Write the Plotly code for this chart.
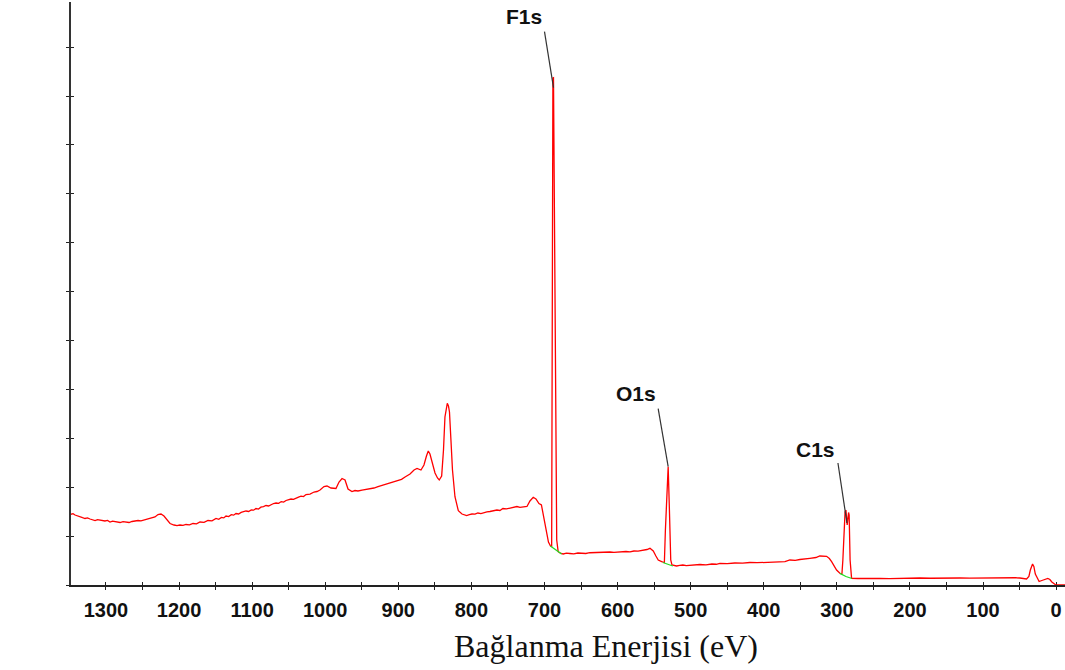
import plotly.graph_objects as go

# XPS survey spectrum: binding energy (eV) and intensity (counts)
binding_energy = [
    1347.8, 1345.0, 1342.3, 1339.0, 1335.5, 1332.0, 1328.6, 1325.2, 1321.8, 1318.3,
    1314.9, 1311.5, 1308.1, 1304.7, 1301.3, 1297.8, 1294.4, 1291.0, 1287.6, 1284.1,
    1280.7, 1276.6, 1272.5, 1268.4, 1264.3, 1260.2, 1256.1, 1252.0, 1247.9, 1243.8,
    1239.7, 1236.3, 1232.9, 1228.8, 1224.7, 1220.6, 1216.5, 1212.3, 1206.9, 1202.8,
    1198.7, 1194.6, 1190.5, 1185.7, 1180.9, 1176.1, 1171.3, 1165.8, 1160.4, 1154.9,
    1149.4, 1145.7, 1142.0, 1138.8, 1135.7, 1132.1, 1128.5, 1125.3, 1122.1, 1118.5,
    1115.0, 1111.7, 1108.4, 1104.8, 1101.2, 1098.0, 1094.7, 1091.3, 1088.0, 1084.5,
    1081.0, 1077.5, 1074.1, 1070.7, 1067.3, 1063.7, 1060.2, 1056.9, 1053.6, 1050.2,
    1046.8, 1043.4, 1040.0, 1036.5, 1033.1, 1029.7, 1026.3, 1020.8, 1015.3, 1011.2,
    1007.1, 1001.7, 997.6, 992.1, 985.3, 981.1, 977.0, 972.9, 968.8, 963.4,
    959.3, 955.2, 949.7, 944.2, 938.8, 933.3, 927.8, 922.3, 916.9, 911.4,
    905.9, 900.4, 895.6, 890.8, 887.4, 884.0, 878.5, 874.4, 869.0, 864.9,
    861.5, 859.0, 856.7, 853.9, 849.8, 846.4, 844.0, 840.7, 838.2, 836.2,
    834.1, 833.0, 831.4, 830.0, 828.0, 825.9, 822.5, 817.9, 812.9, 809.7,
    806.5, 802.8, 799.2, 795.1, 791.1, 787.0, 782.9, 778.8, 774.7, 769.9,
    765.1, 761.0, 756.9, 752.1, 747.3, 742.5, 737.7, 733.6, 729.5, 726.8,
    724.0, 719.9, 715.4, 711.7, 707.6, 704.2, 701.7, 699.4, 696.6, 694.6,
    691.8, 690.2, 688.5, 687.7, 685.1, 683.3, 681.3, 677.6, 674.4, 670.0,
    665.3, 660.0, 654.3, 649.0, 643.4, 638.0, 632.4, 627.0, 621.4, 616.0,
    610.4, 605.0, 599.5, 594.0, 588.5, 583.0, 577.6, 572.0, 566.6, 559.8,
    555.7, 551.2, 547.6, 544.4, 539.7, 536.0, 534.6, 531.8, 530.8, 529.1,
    527.3, 525.6, 519.3, 515.0, 510.7, 506.0, 501.1, 494.0, 487.4, 479.0,
    471.0, 465.0, 460.0, 450.0, 439.6, 429.0, 419.0, 409.0, 398.5, 388.0,
    378.0, 371.0, 364.3, 357.0, 350.6, 343.0, 336.9, 328.7, 323.3, 314.1,
    310.3, 307.2, 304.1, 300.4, 295.9, 293.1, 291.8, 290.7, 288.8, 287.6,
    285.9, 284.0, 283.2, 281.9, 279.9, 271.3, 256.0, 241.2, 228.0, 213.8,
    200.0, 186.5, 172.0, 159.1, 145.0, 131.8, 118.0, 104.4, 90.0, 77.0,
    70.0, 63.3, 56.0, 49.7, 40.5, 37.3, 35.3, 32.3, 30.5, 28.5,
    23.3, 19.6, 15.5, 11.4, 8.6, 5.9, 0.4, -6.0, -12.1,
]
intensity = [
    7229, 7300, 7158, 7050, 6953, 6880, 6800, 6860, 6749, 6700,
    6595, 6690, 6646, 6560, 6544, 6600, 6442, 6520, 6493, 6400,
    6391, 6480, 6442, 6390, 6493, 6540, 6595, 6560, 6646, 6700,
    6749, 6820, 6953, 7209, 7260, 7055, 6646, 6288, 6135, 6080,
    6135, 6090, 6186, 6150, 6288, 6250, 6442, 6400, 6595, 6560,
    6800, 6720, 6905, 6860, 7055, 7000, 7190, 7140, 7311, 7260,
    7420, 7500, 7567, 7520, 7680, 7650, 7822, 7760, 7960, 8020,
    8129, 8080, 8240, 8330, 8385, 8350, 8530, 8480, 8640, 8700,
    8790, 8760, 8896, 8990, 9080, 9040, 9254, 9300, 9509, 9560,
    9714, 10072, 10123, 9918, 9867, 10532, 10890, 10736, 9816, 9560,
    9660, 9612, 9700, 9765, 9820, 9918, 10050, 10174, 10260, 10430,
    10520, 10634, 10800, 11043, 11200, 11350, 11759, 11912, 11759, 12270,
    13190, 13702, 13395, 12577, 11452, 10941, 10736, 11145, 13804, 17178,
    18405, 18579, 18303, 17689, 14826, 11759, 9029, 7597, 7260, 7200,
    7106, 7200, 7260, 7240, 7362, 7300, 7413, 7470, 7515, 7560,
    7669, 7620, 7822, 7780, 7873, 7920, 8027, 7940, 7976, 8060,
    8027, 8589, 8967, 8794, 8333, 8180, 7158, 6135, 5113, 4397,
    3988, 3937, 51841, 51872, 24029, 4601, 3405, 3221, 3170, 3260,
    3221, 3180, 3272, 3230, 3221, 3300, 3323, 3280, 3323, 3400,
    3374, 3330, 3374, 3440, 3425, 3390, 3477, 3460, 3528, 3630,
    3753, 3477, 2965, 2556, 2382, 2301, 5624, 12066, 12096, 7669,
    2556, 2045, 1943, 2000, 2045, 1990, 2014, 2080, 2096, 2060,
    2147, 2120, 2219, 2180, 2250, 2230, 2301, 2280, 2301, 2360,
    2403, 2380, 2556, 2520, 2607, 2650, 2730, 2812, 2965, 2935,
    2710, 2382, 1994, 1534, 1196, 1125, 2556, 4090, 7464, 7669,
    6135, 7413, 7158, 2556, 685, 665, 700, 685, 660, 685,
    730, 716, 690, 716, 750, 716, 700, 716, 760, 746,
    720, 767, 740, 716, 614, 869, 1534, 2147, 1892, 1125,
    358, 460, 583, 665, 562, 307, 0, 0, 0,
]

# Shirley background segments under the fitted peaks (None separates segments)
bg_energy = [691.9, 685.6, 676.6, None, 538.1, 524.4, None, 295.9, 287.6, 279.4]
bg_intensity = [3988, 3630, 3170, None, 2301, 1943, None, 1196, 869, 665]

# Peak assignments
peak_names = ["F1s", "O1s", "C1s"]
peak_energy = [687.7, 530.8, 287.6]
# label centre offset from the peak top, in pixels (dx, dy)
label_offset = [(-29, 61), (-32, 73), (-30, 61)]
# leader line ends relative to the peak top, in pixels (dx0, dy0, dx1, dy1)
leader_offset = [(-9, 46, 0, -10), (-10, 58, 0, 0), (-8, 47, 1, -13)]

x_tick_values = list(range(1300, -1, -50))
x_tick_text = [str(v) if v % 100 == 0 else "" for v in x_tick_values]
y_tick_values = list(range(0, 55001, 5000))

x_range = [1347.8, -12.1]
y_range = [0, 59612]

fig = go.Figure()
fig.add_trace(go.Scatter(
    x=binding_energy, y=intensity, mode="lines",
    line=dict(color="#ff0000", width=1.3), showlegend=False, hoverinfo="skip",
))
fig.add_trace(go.Scatter(
    x=bg_energy, y=bg_intensity, mode="lines", xaxis="x2", yaxis="y2",
    line=dict(color="#22dd22", width=1.3), showlegend=False, hoverinfo="skip",
    connectgaps=False,
))


def peak_height(e):
    i = min(range(len(binding_energy)), key=lambda k: abs(binding_energy[k] - e))
    return binding_energy[i], intensity[i]


annotations = []
shapes = []
for name, e, (lx, ly), (dx0, dy0, dx1, dy1) in zip(peak_names, peak_energy, label_offset, leader_offset):
    px, py = peak_height(e)
    annotations.append(dict(
        x=px, y=py, xref="x", yref="y", text=name, showarrow=False,
        xshift=lx, yshift=ly,
        font=dict(family="Liberation Sans, Arial", size=21, color="#111111", weight="bold"),
    ))
    shapes.append(dict(
        type="line", xref="x", yref="y", xsizemode="pixel", ysizemode="pixel",
        xanchor=px, yanchor=py, x0=dx0, y0=dy0, x1=dx1, y1=dy1,
        line=dict(color="#333333", width=1.2),
    ))

annotations.append(dict(
    x=0.538, y=-0.105, xref="paper", yref="paper", text="Bağlanma Enerjisi (eV)",
    showarrow=False, yanchor="middle",
    font=dict(family="Liberation Serif, Times New Roman", size=32, color="#111111"),
))

axis_common = dict(showgrid=False, zeroline=False, layer="below traces")

fig.update_layout(
    width=1065, height=670,
    margin=dict(l=71, r=0, t=2, b=85),
    paper_bgcolor="white", plot_bgcolor="white",
    xaxis=dict(
        **axis_common, range=x_range, tickmode="array",
        tickvals=x_tick_values, ticktext=x_tick_text,
        ticks="outside", ticklen=3, tickwidth=1.3, tickcolor="#222222",
        ticklabelstandoff=3,
        showline=True, linecolor="#222222", linewidth=1.6,
        tickfont=dict(family="Liberation Sans, Arial", size=20, color="#111111", weight="bold"),
    ),
    yaxis=dict(
        **axis_common, range=y_range, tickmode="array", tickvals=y_tick_values,
        showticklabels=False, ticks="outside", ticklen=3, tickwidth=1.3, tickcolor="#222222",
        showline=True, linecolor="#333333", linewidth=1.6,
    ),
    xaxis2=dict(
        **axis_common, range=x_range, overlaying="x", tickmode="array",
        tickvals=x_tick_values, showticklabels=False,
        ticks="inside", ticklen=3, tickwidth=1.3, tickcolor="#222222", showline=False,
    ),
    yaxis2=dict(
        **axis_common, range=y_range, overlaying="y", tickmode="array",
        tickvals=y_tick_values, showticklabels=False,
        ticks="inside", ticklen=3, tickwidth=1.3, tickcolor="#222222", showline=False,
    ),
    annotations=annotations,
    shapes=shapes,
)

fig.write_html("out.html")
